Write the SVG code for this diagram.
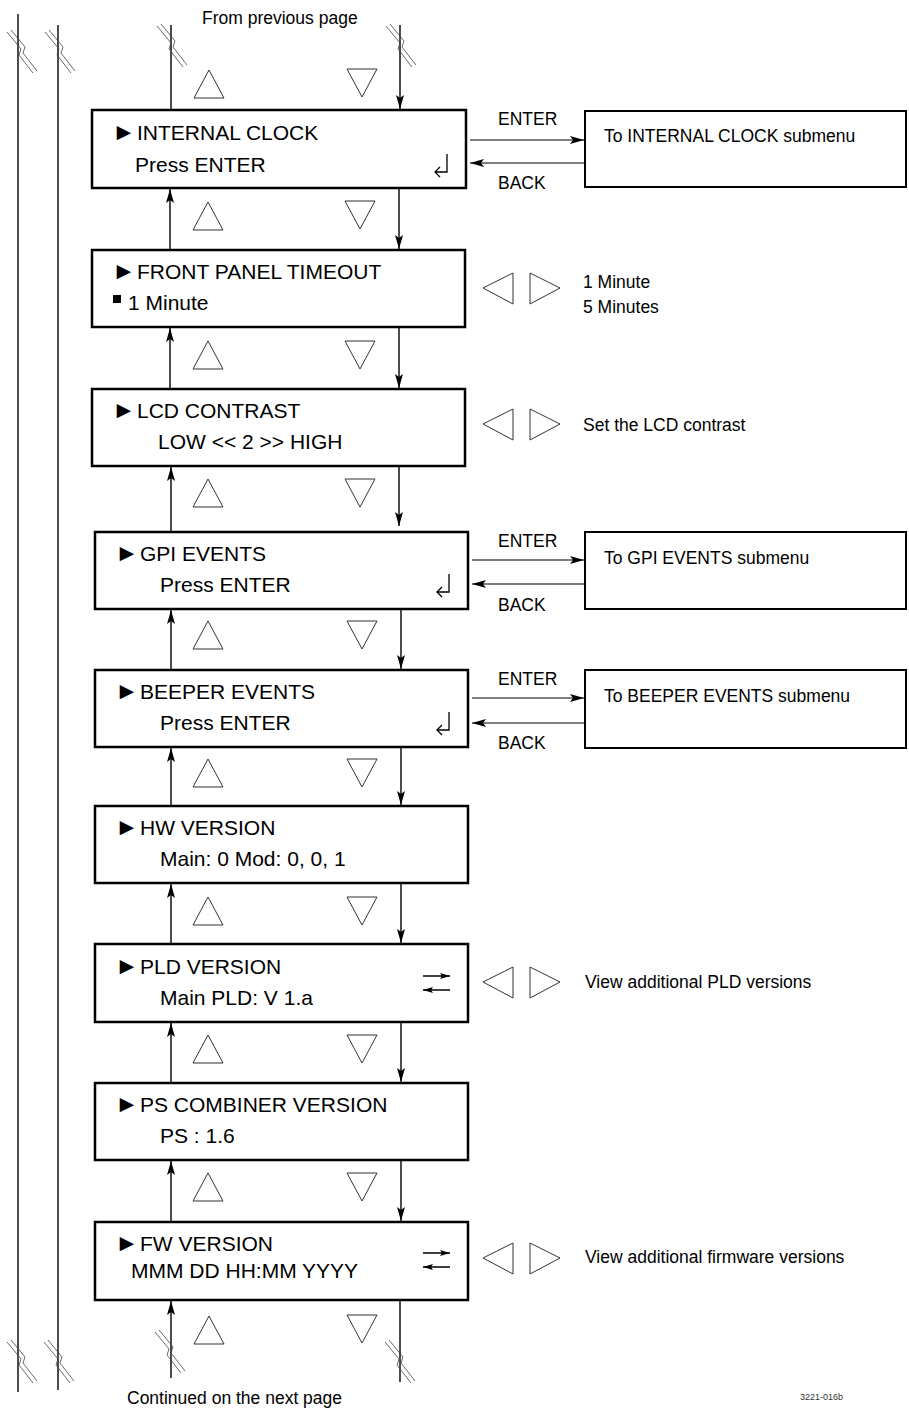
<svg xmlns="http://www.w3.org/2000/svg" width="909" height="1411" viewBox="0 0 909 1411">
<style>
.box{fill:#fff;stroke:#000;stroke-width:2.5}
.sub{fill:#fff;stroke:#000;stroke-width:2}
.t{font-family:"Liberation Sans",Arial,sans-serif;font-size:21px;fill:#000}
.bul{font-family:"Liberation Sans",Arial,sans-serif;font-size:24px}
.s{font-family:"Liberation Sans",Arial,sans-serif;font-size:17.5px;fill:#000}
.tri{fill:none;stroke:#333;stroke-width:1}
.ln{fill:none;stroke:#000;stroke-width:1.4}
.thin{fill:none;stroke:#000;stroke-width:1.2}
.brk{fill:none;stroke:#444;stroke-width:0.8}
</style>
<defs>
<marker id="ah" viewBox="0 0 14 8" refX="14" refY="4" markerWidth="14" markerHeight="8" orient="auto" markerUnits="userSpaceOnUse">
<path d="M0,0 L14,4 L0,8 L3,4 z" fill="#000"/>
</marker>
<marker id="sah" viewBox="0 0 10 6" refX="10" refY="3" markerWidth="10" markerHeight="6" orient="auto" markerUnits="userSpaceOnUse">
<path d="M0,0 L10,3 L0,6 L2,3 z" fill="#000"/>
</marker>
<g id="brk">
<path class="brk" d="M-13,-20 L1,-3 L-1,3 L13,21"/>
<path class="brk" d="M-9,-22 L5,-5 L3,1 L17,19"/>
</g>
<path id="up" class="tri" d="M0,-14 L-15,14 L15,14 Z"/>
<path id="dn" class="tri" d="M0,14 L-15,-14 L15,-14 Z"/>
<g id="lr">
<path class="tri" d="M0,15 L30,0 L30,31 Z"/>
<path class="tri" d="M47,0 L77,15 L47,31 Z"/>
</g>
<g id="ret" fill="none" stroke="#000" stroke-width="1.3">
<path d="M0,-11 L0,7 L-12,7"/>
<path d="M-7,2 L-12,7 L-7,12"/>
</g>
<g id="swap">
<path d="M0,0 L27,0" fill="none" stroke="#000" stroke-width="1.5" marker-end="url(#sah)"/>
<path d="M27,14 L0,14" fill="none" stroke="#000" stroke-width="1.5" marker-end="url(#sah)"/>
</g>
</defs>
<rect width="909" height="1411" fill="#fff"/>

<g id="margin-lines">
<line class="ln" x1="18" y1="14" x2="18" y2="1392"/>
<line class="ln" x1="58" y1="25" x2="58" y2="1390"/>
<use href="#brk" x="20" y="52"/>
<use href="#brk" x="58" y="52"/>
<use href="#brk" x="20" y="1362"/>
<use href="#brk" x="57" y="1362"/>
</g>

<g id="connectors">
<line class="ln" x1="171" y1="110" x2="171" y2="25"/>
<line class="ln" x1="400" y1="25" x2="400" y2="109" marker-end="url(#ah)"/>
<use href="#brk" x="170" y="46"/>
<use href="#brk" x="399" y="46"/>
<line class="ln" x1="170" y1="250" x2="170" y2="189" marker-end="url(#ah)"/>
<line class="ln" x1="399" y1="189" x2="399" y2="249" marker-end="url(#ah)"/>
<line class="ln" x1="170" y1="389" x2="170" y2="328" marker-end="url(#ah)"/>
<line class="ln" x1="399" y1="328" x2="399" y2="388" marker-end="url(#ah)"/>
<line class="ln" x1="171" y1="532" x2="171" y2="467" marker-end="url(#ah)"/>
<line class="ln" x1="399" y1="467" x2="399" y2="526" marker-end="url(#ah)"/>
<line class="ln" x1="171" y1="670" x2="171" y2="610" marker-end="url(#ah)"/>
<line class="ln" x1="401" y1="610" x2="401" y2="669" marker-end="url(#ah)"/>
<line class="ln" x1="171" y1="806" x2="171" y2="748" marker-end="url(#ah)"/>
<line class="ln" x1="401" y1="748" x2="401" y2="805" marker-end="url(#ah)"/>
<line class="ln" x1="171" y1="944" x2="171" y2="884" marker-end="url(#ah)"/>
<line class="ln" x1="401" y1="884" x2="401" y2="943" marker-end="url(#ah)"/>
<line class="ln" x1="171" y1="1083" x2="171" y2="1023" marker-end="url(#ah)"/>
<line class="ln" x1="401" y1="1023" x2="401" y2="1082" marker-end="url(#ah)"/>
<line class="ln" x1="171" y1="1222" x2="171" y2="1161" marker-end="url(#ah)"/>
<line class="ln" x1="401" y1="1161" x2="401" y2="1221" marker-end="url(#ah)"/>
<line class="ln" x1="171" y1="1378" x2="171" y2="1301" marker-end="url(#ah)"/>
<line class="ln" x1="400" y1="1301" x2="400" y2="1382"/>
<use href="#brk" x="168" y="1352"/>
<use href="#brk" x="398" y="1362"/>

<line class="thin" x1="470" y1="140" x2="584" y2="140" marker-end="url(#ah)"/>
<line class="thin" x1="584" y1="163" x2="470" y2="163" marker-end="url(#ah)"/>
<line class="thin" x1="472" y1="560" x2="584" y2="560" marker-end="url(#ah)"/>
<line class="thin" x1="584" y1="584" x2="472" y2="584" marker-end="url(#ah)"/>
<line class="thin" x1="472" y1="698" x2="584" y2="698" marker-end="url(#ah)"/>
<line class="thin" x1="584" y1="723" x2="472" y2="723" marker-end="url(#ah)"/>
<text class="s" x="498" y="125">ENTER</text>
<text class="s" x="498" y="189">BACK</text>
<text class="s" x="498" y="547">ENTER</text>
<text class="s" x="498" y="611">BACK</text>
<text class="s" x="498" y="685">ENTER</text>
<text class="s" x="498" y="749">BACK</text>
</g>

<g id="nav-triangles">
<use href="#up" x="209" y="84"/><use href="#dn" x="362" y="83"/>
<use href="#up" x="208" y="216"/><use href="#dn" x="360" y="215"/>
<use href="#up" x="208" y="355"/><use href="#dn" x="360" y="355"/>
<use href="#up" x="208" y="493"/><use href="#dn" x="360" y="493"/>
<use href="#up" x="208" y="635"/><use href="#dn" x="362" y="635"/>
<use href="#up" x="208" y="773"/><use href="#dn" x="362" y="773"/>
<use href="#up" x="208" y="911"/><use href="#dn" x="362" y="911"/>
<use href="#up" x="208" y="1049"/><use href="#dn" x="362" y="1049"/>
<use href="#up" x="208" y="1187"/><use href="#dn" x="362" y="1187"/>
<use href="#up" x="209" y="1330"/><use href="#dn" x="362" y="1329"/>
</g>

<g id="internal-clock">
<rect class="box" x="92" y="110" width="374" height="78"/>
<text class="t" y="140"><tspan class="bul" x="112">►</tspan><tspan x="137">INTERNAL CLOCK</tspan></text>
<text class="t" x="135" y="172">Press ENTER</text>
<use href="#ret" x="447" y="165"/>
</g>
<g id="internal-clock-sub">
<rect class="sub" x="585" y="111" width="321" height="76"/>
<text class="s" x="604" y="142">To INTERNAL CLOCK submenu</text>
</g>

<g id="front-panel-timeout">
<rect class="box" x="92" y="250" width="373" height="77"/>
<text class="t" y="279"><tspan class="bul" x="112">►</tspan><tspan x="137">FRONT PANEL TIMEOUT</tspan></text>
<rect x="113" y="295" width="8" height="8" fill="#000"/>
<text class="t" x="128" y="310">1 Minute</text>
<use href="#lr" x="483" y="273"/>
<text class="s" x="583" y="288">1 Minute</text>
<text class="s" x="583" y="313">5 Minutes</text>
</g>

<g id="lcd-contrast">
<rect class="box" x="92" y="389" width="373" height="77"/>
<text class="t" y="418"><tspan class="bul" x="112">►</tspan><tspan x="137">LCD CONTRAST</tspan></text>
<text class="t" x="158" y="449">LOW &lt;&lt; 2 &gt;&gt; HIGH</text>
<use href="#lr" x="483" y="409"/>
<text class="s" x="583" y="431">Set the LCD contrast</text>
</g>

<g id="gpi-events">
<rect class="box" x="95" y="532" width="373" height="77"/>
<text class="t" y="561"><tspan class="bul" x="115">►</tspan><tspan x="140">GPI EVENTS</tspan></text>
<text class="t" x="160" y="592">Press ENTER</text>
<use href="#ret" x="449" y="585"/>
</g>
<g id="gpi-events-sub">
<rect class="sub" x="585" y="532" width="321" height="77"/>
<text class="s" x="604" y="564">To GPI EVENTS submenu</text>
</g>

<g id="beeper-events">
<rect class="box" x="95" y="670" width="373" height="77"/>
<text class="t" y="699"><tspan class="bul" x="115">►</tspan><tspan x="140">BEEPER EVENTS</tspan></text>
<text class="t" x="160" y="730">Press ENTER</text>
<use href="#ret" x="449" y="723"/>
</g>
<g id="beeper-events-sub">
<rect class="sub" x="585" y="670" width="321" height="78"/>
<text class="s" x="604" y="702">To BEEPER EVENTS submenu</text>
</g>

<g id="hw-version">
<rect class="box" x="95" y="806" width="373" height="77"/>
<text class="t" y="835"><tspan class="bul" x="115">►</tspan><tspan x="140">HW VERSION</tspan></text>
<text class="t" x="160" y="866">Main: 0 Mod: 0, 0, 1</text>
</g>

<g id="pld-version">
<rect class="box" x="95" y="944" width="373" height="78"/>
<text class="t" y="974"><tspan class="bul" x="115">►</tspan><tspan x="140">PLD VERSION</tspan></text>
<text class="t" x="160" y="1005">Main PLD: V 1.a</text>
<use href="#swap" x="423" y="976"/>
<use href="#lr" x="483" y="967"/>
<text class="s" x="585" y="988">View additional PLD versions</text>
</g>

<g id="ps-combiner-version">
<rect class="box" x="95" y="1083" width="373" height="77"/>
<text class="t" y="1112"><tspan class="bul" x="115">►</tspan><tspan x="140">PS COMBINER VERSION</tspan></text>
<text class="t" x="160" y="1143">PS : 1.6</text>
</g>

<g id="fw-version">
<rect class="box" x="95" y="1222" width="373" height="78"/>
<text class="t" y="1251"><tspan class="bul" x="115">►</tspan><tspan x="140">FW VERSION</tspan></text>
<text class="t" x="131" y="1278">MMM DD HH:MM YYYY</text>
<use href="#swap" x="423" y="1253"/>
<use href="#lr" x="483" y="1243"/>
<text class="s" x="585" y="1263">View additional firmware versions</text>
</g>

<g id="page-labels">
<text class="s" x="202" y="24">From previous page</text>
<text class="s" x="127" y="1404">Continued on the next page</text>
<text x="800" y="1400" font-family="'Liberation Sans',Arial,sans-serif" font-size="9" fill="#333">3221-016b</text>
</g>
</svg>
